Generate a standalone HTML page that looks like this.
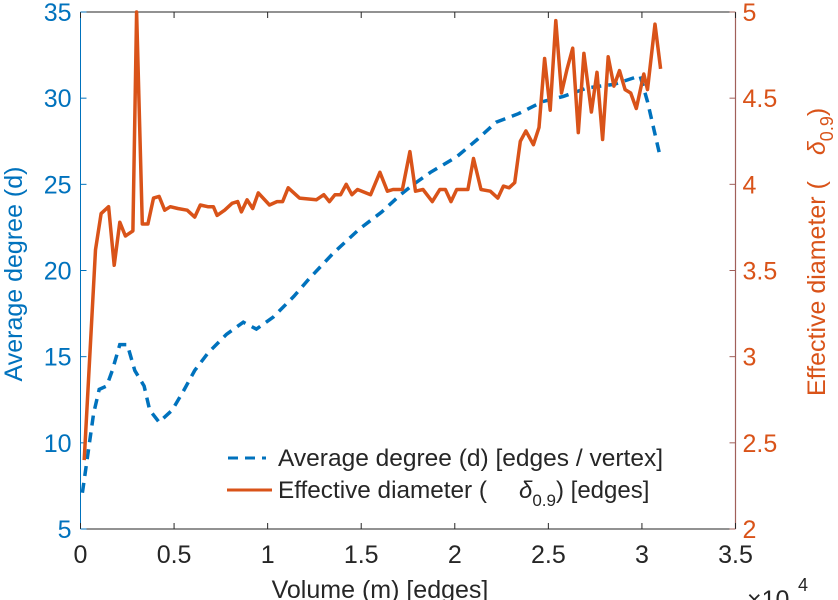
<!DOCTYPE html>
<html><head><meta charset="utf-8"><style>
html,body{margin:0;padding:0;background:#fff;}
svg{display:block;font-family:"Liberation Sans",sans-serif;}
</style></head><body>
<svg id="chart" width="838" height="600" viewBox="0 0 838 600" xmlns="http://www.w3.org/2000/svg">
<g id="axes"></g>
<g id="series"></g>
<g id="legend">
  <line x1="228" y1="458" x2="266" y2="458" stroke="#0072BD" stroke-width="3" stroke-dasharray="10,7"/>
  <text x="278" y="466" font-size="24" fill="#262626" textLength="385" lengthAdjust="spacingAndGlyphs">Average degree (d) [edges / vertex]</text>
  <line x1="227" y1="490" x2="272" y2="490" stroke="#D95319" stroke-width="3"/>
  <text x="278" y="498" font-size="24" fill="#262626" textLength="209" lengthAdjust="spacingAndGlyphs">Effective diameter (</text>
  <text x="519" y="498" font-size="24" fill="#262626" font-style="italic">δ<tspan font-size="17" font-style="normal" dy="8">0.9</tspan><tspan font-style="normal" dy="-8">) [edges]</tspan></text>
</g>
</svg>
<script>
const xTicks = [0, 0.5, 1, 1.5, 2, 2.5, 3, 3.5];
const xTickLabels = ["0", "0.5", "1", "1.5", "2", "2.5", "3", "3.5"];
const yLeftTicks = [5, 10, 15, 20, 25, 30, 35];
const yRightTicks = [2, 2.5, 3, 3.5, 4, 4.5, 5];
const yRightTickLabels = ["2", "2.5", "3", "3.5", "4", "4.5", "5"];

const degreeX = [0.01,0.04,0.07,0.10,0.14,0.17,0.21,0.25,0.29,0.34,0.37,0.42,0.49,0.55,0.61,0.68,0.78,0.87,0.94,1.03,1.14,1.22,1.35,1.49,1.61,1.71,1.78,1.87,2.01,2.12,2.22,2.34,2.47,2.58,2.71,2.85,2.99,3.03,3.10];
const degreeY = [7.1,9.4,11.7,13.1,13.3,14.2,15.7,15.7,14.2,13.3,11.9,11.2,11.9,13.0,14.2,15.2,16.3,17.0,16.6,17.3,18.5,19.5,21.0,22.4,23.4,24.4,25.0,25.7,26.6,27.6,28.6,29.1,29.8,30.1,30.6,30.8,31.3,29.8,26.5];

const diamX = [0.02,0.08,0.11,0.15,0.18,0.21,0.24,0.28,0.30,0.33,0.36,0.39,0.42,0.45,0.48,0.52,0.57,0.61,0.64,0.68,0.71,0.73,0.77,0.81,0.84,0.86,0.89,0.92,0.95,1.01,1.05,1.08,1.11,1.17,1.26,1.30,1.33,1.36,1.39,1.42,1.45,1.48,1.55,1.60,1.64,1.67,1.72,1.76,1.79,1.83,1.88,1.92,1.95,1.98,2.01,2.07,2.10,2.14,2.19,2.23,2.26,2.29,2.32,2.35,2.38,2.42,2.45,2.48,2.51,2.54,2.57,2.60,2.63,2.66,2.69,2.73,2.76,2.79,2.82,2.85,2.88,2.91,2.94,2.97,3.01,3.03,3.07,3.10];
const diamY = [2.4,3.62,3.83,3.87,3.53,3.78,3.70,3.73,5.0,3.77,3.77,3.92,3.93,3.85,3.87,3.86,3.85,3.81,3.88,3.87,3.87,3.82,3.85,3.89,3.90,3.84,3.91,3.86,3.95,3.88,3.90,3.90,3.98,3.92,3.91,3.94,3.90,3.94,3.94,4.00,3.94,3.97,3.94,4.07,3.96,3.97,3.97,4.19,3.96,3.97,3.90,3.97,3.97,3.90,3.97,3.97,4.15,3.97,3.96,3.92,3.99,3.98,4.01,4.25,4.31,4.23,4.33,4.73,4.43,4.95,4.53,4.67,4.79,4.30,4.76,4.42,4.65,4.26,4.74,4.57,4.66,4.55,4.53,4.44,4.64,4.55,4.93,4.67];

const L = 80.5, R = 735.5, T = 12, B = 529;
const xS = v => L + (v / 3.5) * (R - L);
const yL = v => B - (v - 5) / 30 * (B - T);
const yR = v => B - (v - 2) / 3 * (B - T);
const NS = "http://www.w3.org/2000/svg";
function mk(tag, attrs, parent, text) {
  const e = document.createElementNS(NS, tag);
  for (const k in attrs) e.setAttribute(k, attrs[k]);
  if (text !== undefined) e.textContent = text;
  parent.appendChild(e);
  return e;
}
const axes = document.getElementById('axes');
const series = document.getElementById('series');

let e;
e = mk('line', {x1:L, y1:T, x2:R, y2:T, stroke:'#262626', 'stroke-width':1}, axes);


e = mk('line', {x1:L, y1:B, x2:R, y2:B, stroke:'#262626', 'stroke-width':1}, axes);


e = mk('line', {x1:L, y1:T, x2:L, y2:B, stroke:'#0072BD', 'stroke-width':1}, axes);


e = mk('line', {x1:R, y1:T, x2:R, y2:B, stroke:'#A0605A', 'stroke-width':1.2}, axes);



xTicks.forEach((v, i) => {
  const x = xS(v);
  let t = mk('line', {x1:x, y1:B, x2:x, y2:B-6, stroke:'#262626'}, axes);
  
  
  t = mk('line', {x1:x, y1:T, x2:x, y2:T+6, stroke:'#262626'}, axes);
  
  
  t = mk('text', {x:x, y:B+34, 'font-size':25, fill:'#262626', 'text-anchor':'middle'}, axes, xTickLabels[i]);
  
  
});
yLeftTicks.forEach(v => {
  const y = yL(v);
  let t = mk('line', {x1:L, y1:y, x2:L+6, y2:y, stroke:'#0072BD'}, axes);
  
  
  t = mk('text', {x:L-9, y:y+9, 'font-size':25, fill:'#0072BD', 'text-anchor':'end'}, axes, String(v));
  
  
});
yRightTicks.forEach((v, i) => {
  const y = yR(v);
  let t = mk('line', {x1:R, y1:y, x2:R-6, y2:y, stroke:'#A0605A'}, axes);
  
  
  t = mk('text', {x:R+7, y:y+9, 'font-size':25, fill:'#D95319', 'text-anchor':'start'}, axes, yRightTickLabels[i]);
  
  
});

e = mk('text', {x:380, y:598, 'font-size':25, fill:'#262626', 'text-anchor':'middle'}, axes, 'Volume (m) [edges]');


e = mk('text', {x:747, y:608, 'font-size':25, fill:'#262626'}, axes, '×10');


e = mk('text', {x:798, y:591, 'font-size':18, fill:'#262626'}, axes, '4');


e = mk('text', {x:0, y:0, 'font-size':25, fill:'#0072BD', 'text-anchor':'middle', transform:'translate(22,274) rotate(-90)'}, axes, 'Average degree (d)');


e = mk('text', {x:0, y:0, 'font-size':25, fill:'#D95319', 'text-anchor':'start', transform:'translate(825,396) rotate(-90)'}, axes);


mk('tspan', {}, e, 'Effective diameter (');
mk('tspan', {dx:26, 'font-style':'italic'}, e, 'δ');
mk('tspan', {'font-size':18, dy:8}, e, '0.9');
mk('tspan', {dy:-8}, e, ')');

const dPts = degreeX.map((x, i) => xS(x).toFixed(1) + ',' + yL(degreeY[i]).toFixed(1)).join(' ');
e = mk('polyline', {points:dPts, fill:'none', stroke:'#0072BD', 'stroke-width':3.5, 'stroke-dasharray':'10,7'}, series);


const rPts = diamX.map((x, i) => xS(x).toFixed(1) + ',' + yR(diamY[i]).toFixed(1)).join(' ');
e = mk('polyline', {points:rPts, fill:'none', stroke:'#D95319', 'stroke-width':3.5, 'stroke-linejoin':'round'}, series);


</script>
</body></html>
